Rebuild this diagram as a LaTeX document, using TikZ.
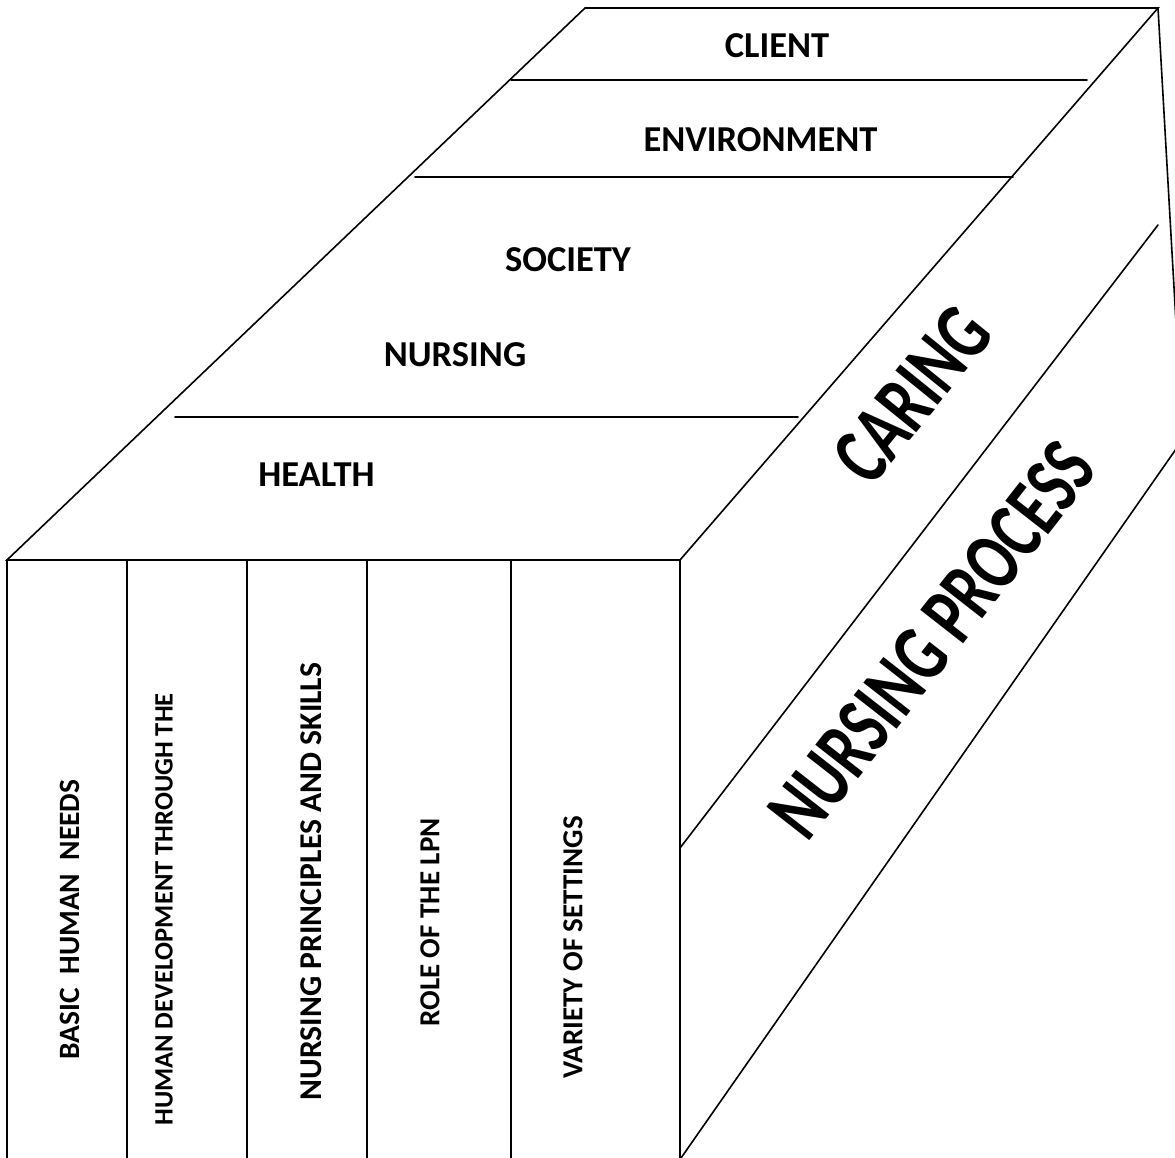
\documentclass[tikz,border=0pt]{standalone}
\usepackage{fontspec}
\setmainfont{Carlito}
\begin{document}
\begin{tikzpicture}[x=1pt,y=-1pt,
  edge/.style={line width=1.6pt, line cap=round},
  toplabel/.style={font=\fontsize{36.5}{40}\selectfont\bfseries, inner sep=0pt},
  spine/.style={rotate=90, inner sep=0pt},
  bandlabel/.style={font=\fontsize{84}{90}\selectfont\bfseries, inner sep=0pt}]
\path[use as bounding box] (0,0) rectangle (1175,1158);
\clip (0,0) rectangle (1175,1158);
% corners
\coordinate (tl) at (585,8);
\coordinate (tr) at (1158,8);
\coordinate (fl) at (7,560);
\coordinate (fr) at (680,560);
\coordinate (c1) at (511,80);   \coordinate (c2) at (1087,80);
\coordinate (e1) at (415,177);  \coordinate (e2) at (1013,177);
\coordinate (h1) at (175,417);  \coordinate (h2) at (798,417);
\coordinate (flb) at (7,1170);
\coordinate (frb) at (680,1170);
\coordinate (v1t) at (127,560); \coordinate (v1b) at (127,1170);
\coordinate (v2t) at (247,560); \coordinate (v2b) at (247,1170);
\coordinate (v3t) at (367,560); \coordinate (v3b) at (367,1170);
\coordinate (v4t) at (511,560); \coordinate (v4b) at (511,1170);
\coordinate (m1) at (680,848);  \coordinate (m2) at (1158,225);
\coordinate (l1) at (681,1158); \coordinate (l2) at (1190,429);
\coordinate (rr) at (1177,340);
% top face
\draw[edge] (fl) -- (tl) -- (tr) -- (fr) -- cycle;
\draw[edge] (c1) -- (c2);
\draw[edge] (e1) -- (e2);
\draw[edge] (h1) -- (h2);
% front face
\draw[edge] (fl) -- (flb);
\draw[edge] (fr) -- (frb);
\draw[edge] (v1t) -- (v1b);
\draw[edge] (v2t) -- (v2b);
\draw[edge] (v3t) -- (v3b);
\draw[edge] (v4t) -- (v4b);
% side face
\draw[edge] (m1) -- (m2);
\draw[edge] (l1) -- (l2);
\draw[edge] (tr) -- (rr);
% top labels
\node[toplabel] (client) at (777,45.5) {CLIENT};
\node[toplabel] (env) at (760.5,140) {ENVIRONMENT};
\node[toplabel] (soc) at (568,260) {SOCIETY};
\node[toplabel] (nurs) at (455,355) {NURSING};
\node[toplabel] (health) at (316.5,475) {HEALTH};
% spine labels
\node[spine, font=\fontsize{29.5}{32}\selectfont\bfseries] (basic) at (69.5,919.5) {BASIC~~HUMAN~~NEEDS};
\node[spine, font=\fontsize{26.5}{30}\selectfont\bfseries] (human) at (164,909.5) {HUMAN DEVELOPMENT THROUGH THE};
\node[spine, font=\fontsize{31.7}{34}\selectfont\bfseries] (princ) at (311,881.5) {NURSING PRINCIPLES AND SKILLS};
\node[spine, font=\fontsize{29}{32}\selectfont\bfseries] (role) at (430,922.5) {ROLE OF THE LPN};
\node[spine, font=\fontsize{29}{32}\selectfont\bfseries] (variety) at (573,947.5) {VARIETY OF SETTINGS};
% side labels
\node[bandlabel, rotate=51] (caring) at (912,395) {\scalebox{0.72}[1]{CARING}};
\node[bandlabel, rotate=52] (process) at (932,640) {\scalebox{0.72}[1]{NURSING PROCESS}};
\end{tikzpicture}
\end{document}
